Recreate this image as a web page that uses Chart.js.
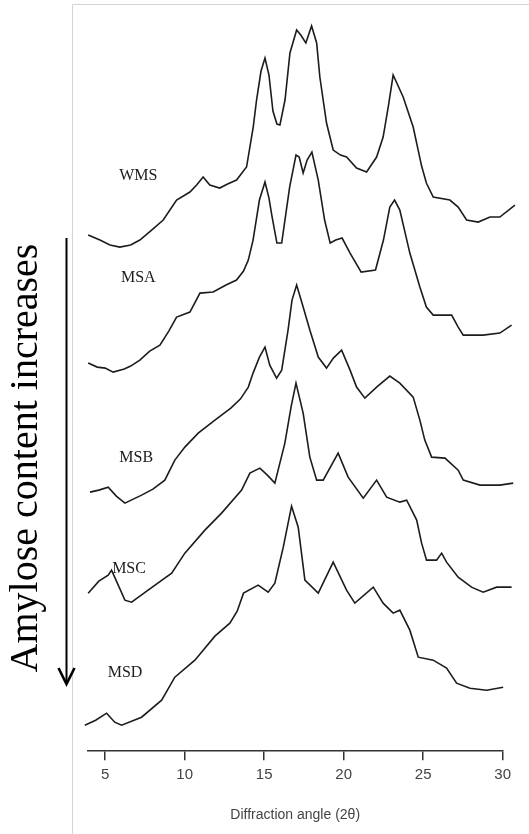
<!DOCTYPE html>
<html>
<head>
<meta charset="utf-8">
<script src="https://cdn.jsdelivr.net/npm/chart.js@4"></script>
<style>
  html, body { margin: 0; padding: 0; background: #ffffff; }
  #wrap { width: 529px; height: 834px; position: relative; }
</style>
</head>
<body>
<div id="wrap"><canvas id="c" width="529" height="834"></canvas></div>
<script>
// ---- data (2θ in degrees, intensity in arbitrary stacked units) ----
const sampleNames = ["WMS", "MSA", "MSB", "MSC", "MSD"];
const tickValues = [5, 10, 15, 20, 25, 30];
const xAxisTitle = "Diffraction angle (2\u03B8)";
const sideLabel = "Amylose content increases";

const wmsAngle = [3.93,4.67,5.3,5.92,6.6,7.18,7.92,8.65,9.49,10.33,10.75,11.16,11.58,12.2,12.7,13.26,13.89,14.1,14.31,14.52,14.8,15.05,15.3,15.55,15.8,15.99,16.31,16.62,17.04,17.3,17.62,17.98,18.3,18.5,18.92,19.34,19.8,20.18,20.81,21.44,22.07,22.48,22.8,23.11,23.74,24.37,24.9,25.2,25.63,26.68,27.2,27.73,28.46,29.2,29.82,30.77];
const wmsIntensity = [516,511,506,504,506,511,521,531,551,559,566,574,566,563,567,571,584,604,624,651,680,693,676,640,627,626,651,698,721,716,708,725,708,674,628,601,596,594,583,579,594,614,644,676,654,624,585,568,554,551,544,531,529,534,534,546];

const msaAngle = [3.93,4.5,5.0,5.5,6.2,6.6,7.18,7.8,8.44,9.0,9.49,10.33,10.96,11.79,12.6,13.26,13.7,14.0,14.3,14.7,15.05,15.3,15.5,15.8,16.1,16.35,16.6,17.0,17.2,17.45,17.7,18.0,18.4,18.8,19.15,19.5,19.9,20.4,21.1,22.0,22.5,22.9,23.2,23.53,24.16,24.79,25.2,25.63,26.79,27.2,27.52,28.77,29.82,30.56];
const msaIntensity = [388,384,383,379,382,385,391,400,406,420,434,439,458,459,466,471,480,491,511,551,569,553,534,508,508,536,564,596,594,578,591,599,571,531,508,511,513,498,479,481,511,544,551,541,498,464,444,436,436,424,416,416,418,426];

const msbAngle = [4.04,4.6,5.19,5.7,6.24,7.29,8.0,8.75,9.38,10.01,10.85,11.9,12.9,13.5,14.0,14.3,14.7,15.05,15.35,15.78,16.1,16.5,16.75,17.04,17.45,17.87,18.4,18.92,19.35,19.87,20.4,20.81,21.33,22.07,22.9,23.53,24.37,24.79,25.1,25.53,26.37,27.2,27.52,28.57,29.82,30.66];
const msbIntensity = [259,261,264,255,248,256,262,271,291,304,318,331,343,352,364,378,394,404,386,373,381,421,451,466,444,421,394,383,393,401,381,364,353,364,375,368,354,331,311,294,293,281,271,266,266,268];

const mscAngle = [3.93,4.6,5.19,5.4,6.24,6.66,7.7,9.18,10.01,11.27,12.32,13.58,14.1,14.73,15.2,15.67,16.3,16.7,17.0,17.45,17.87,18.3,18.71,19.65,20.28,21.23,22.07,22.7,23.53,23.96,24.59,24.9,25.21,25.84,26.16,26.47,27.2,28.04,28.77,29.62,30.56];
const mscIntensity = [158,170,176,181,151,149,161,178,198,221,238,261,278,283,276,268,308,345,368,338,294,271,271,298,274,253,271,254,249,251,231,208,191,191,198,189,174,164,159,164,164];

const msdAngle = [3.72,4.4,5.09,5.6,6.03,7.29,8.55,9.38,10.64,11.9,12.84,13.3,13.7,14.62,15.25,15.67,16.2,16.72,17.14,17.56,18.4,19.34,20.18,20.7,21.86,22.48,23.11,23.53,24.16,24.69,25.63,26.47,27.1,27.94,28.99,30.03];
const msdIntensity = [26,31,38,29,26,34,51,74,91,115,128,140,158,166,159,168,204,245,224,171,158,189,161,148,164,148,138,141,121,94,91,83,68,63,61,64];

// label anchor points (in data units) for the sample names
const labelAngle = [7.08, 7.08, 6.95, 6.5, 6.25];
const labelIntensity = [575, 473, 293, 182, 78];

// ---- build datasets ----
const angleSets = [wmsAngle, msaAngle, msbAngle, mscAngle, msdAngle];
const intensitySets = [wmsIntensity, msaIntensity, msbIntensity, mscIntensity, msdIntensity];
const datasets = sampleNames.map((name, i) => ({
  label: name,
  data: angleSets[i].map((a, k) => ({ x: a, y: intensitySets[i][k] })),
  borderColor: "#1c1c1c",
  borderWidth: 1.6,
  pointRadius: 0,
  tension: 0,
  fill: false,
  clip: false
}));

const decorPlugin = {
  id: "decor",
  beforeDraw(chart) {
    const ctx = chart.ctx;
    ctx.save();
    ctx.fillStyle = "#ffffff";
    ctx.fillRect(0, 0, chart.width, chart.height);
    // light frame around the figure panel
    ctx.strokeStyle = "#d4d4d4";
    ctx.lineWidth = 1;
    ctx.beginPath();
    ctx.moveTo(72.5, chart.height);
    ctx.lineTo(72.5, 4.5);
    ctx.lineTo(chart.width, 4.5);
    ctx.stroke();
    ctx.restore();
  },
  afterDatasetsDraw(chart) {
    const ctx = chart.ctx;
    const xs = chart.scales.x, ys = chart.scales.y;
    ctx.save();
    // sample names
    ctx.fillStyle = "#1c1c1c";
    ctx.font = "16px 'Liberation Serif', 'DejaVu Serif', serif";
    ctx.textAlign = "center";
    ctx.textBaseline = "middle";
    sampleNames.forEach((n, i) => {
      ctx.fillText(n, xs.getPixelForValue(labelAngle[i]), ys.getPixelForValue(labelIntensity[i]));
    });
    // rotated side label
    ctx.fillStyle = "#000000";
    ctx.font = "40px 'Liberation Serif', 'DejaVu Serif', serif";
    ctx.translate(37, 458);
    ctx.rotate(-Math.PI / 2);
    ctx.textAlign = "center";
    ctx.textBaseline = "alphabetic";
    ctx.fillText(sideLabel, 0, 0);
    ctx.restore();
    // downward arrow
    ctx.save();
    ctx.strokeStyle = "#000000";
    ctx.lineWidth = 2;
    ctx.beginPath();
    ctx.moveTo(66.5, 238);
    ctx.lineTo(66.5, 683);
    ctx.stroke();
    ctx.lineWidth = 2.6;
    ctx.lineJoin = "miter";
    ctx.beginPath();
    ctx.moveTo(58.5, 668);
    ctx.lineTo(66.5, 684);
    ctx.lineTo(74.5, 668);
    ctx.stroke();
    ctx.restore();
  }
};

new Chart(document.getElementById("c"), {
  type: "line",
  data: { datasets },
  options: {
    responsive: false,
    devicePixelRatio: 1,
    animation: false,
    events: [],
    layout: { padding: { left: 87.7, right: 26.3, top: 0, bottom: 10 } },
    plugins: { legend: { display: false }, tooltip: { enabled: false } },
    scales: {
      x: {
        type: "linear",
        min: 3.9,
        max: 30,
        afterBuildTicks(scale) { scale.ticks = tickValues.map(v => ({ value: v })); },
        ticks: {
          includeBounds: false,
          color: "#444444",
          padding: 6,
          font: { family: "'Liberation Sans', Arial, sans-serif", size: 15 }
        },
        grid: { drawOnChartArea: false, drawTicks: true, tickLength: 9, color: "#333333", lineWidth: 1.5 },
        border: { display: true, color: "#333333", width: 1.6 },
        title: {
          display: true,
          text: xAxisTitle,
          color: "#444444",
          padding: { top: 17, bottom: 0 },
          font: { family: "'Liberation Sans', Arial, sans-serif", size: 14 }
        }
      },
      y: { type: "linear", display: false, min: 0, max: 751 }
    }
  },
  plugins: [decorPlugin]
});
</script>
</body>
</html>
